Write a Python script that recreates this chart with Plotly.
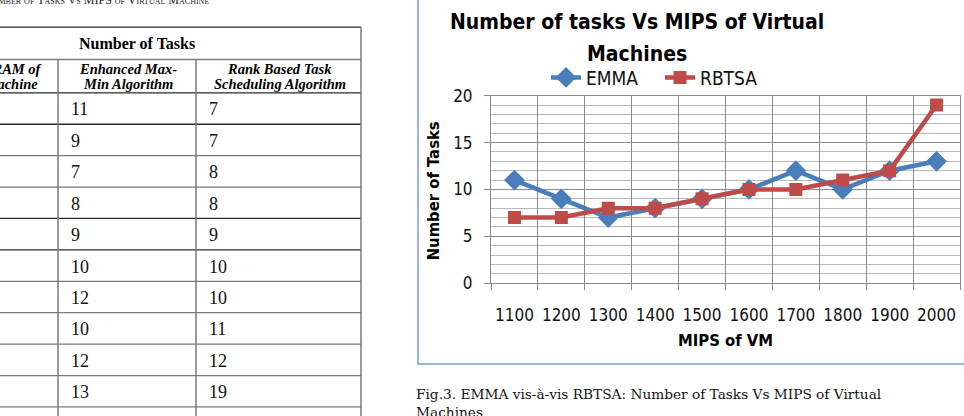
import plotly.graph_objects as go

# ---------------- data ----------------
mips = ["1100", "1200", "1300", "1400", "1500", "1600", "1700", "1800", "1900", "2000"]
emma = [11, 9, 7, 8, 9, 10, 12, 10, 12, 13]
rbtsa = [7, 7, 8, 8, 9, 10, 10, 11, 12, 19]
series_names = ["EMMA", "RBTSA"]
y_ticks = [0, 5, 10, 15, 20]

table_group_header = "Number of Tasks"
table_col_headers = [["Size of RAM of", "Virtual Machine"],
                     ["Enhanced Max-", "Min Algorithm"],
                     ["Rank Based Task", "Scheduling Algorithm"]]

chart_title_lines = ["Number of tasks Vs MIPS of Virtual", "Machines"]
x_title = "MIPS of VM"
y_title = "Number of Tasks"
caption = "Fig.3. EMMA vis-à-vis RBTSA: Number of Tasks Vs MIPS of Virtual<br>Machines"
table_caption = "Number of Tasks Vs MIPS of Virtual Machine"

# ---------------- layout helpers ----------------
W, H = 964, 416
def px(x):
    return x / W
def py(y):
    return 1 - y / H

SANS = "DejaVu Sans Condensed, DejaVu Sans, sans-serif"
SERIF = "Liberation Serif, serif"
BLUE = "#4a7ebb"
RED = "#be4b48"

fig = go.Figure()
fig.add_trace(go.Scatter(x=mips, y=emma, name=series_names[0], mode="lines+markers",
                         line=dict(color=BLUE, width=4.5),
                         marker=dict(symbol="diamond", size=16, color=BLUE)))
fig.add_trace(go.Scatter(x=mips, y=rbtsa, name=series_names[1], mode="lines+markers",
                         line=dict(color=RED, width=4.5),
                         marker=dict(symbol="square", size=13, color=RED)))

# plot area pixel bounds
PL, PR, PT, PB = 491, 960, 90, 287

fig.update_layout(
    width=W, height=H,
    margin=dict(l=0, r=0, t=0, b=0),
    paper_bgcolor="white", plot_bgcolor="white",
    showlegend=True,
    legend=dict(orientation="h", x=px(546), y=py(51), xanchor="left", yanchor="top",
                font=dict(family=SANS, size=19, color="#111"),
                bgcolor="rgba(0,0,0,0)", itemwidth=30, tracegroupgap=0,
                entrywidth=69, entrywidthmode="pixels"),
    xaxis=dict(domain=[px(PL), px(PR)], type="category", range=[-0.5, len(mips) - 0.5],
               tickson="boundaries", ticks="outside", ticklen=6, tickcolor="#888",
               tickangle=0,
               showgrid=True, gridcolor="#8a8a8a", gridwidth=1,
               showline=True, linecolor="#8a8a8a", linewidth=1, mirror=True,
               tickfont=dict(family=SANS, size=17, color="#111"),
               ticklabelstandoff=16, fixedrange=True),
    yaxis=dict(domain=[py(PB), py(PT)], range=[0, 20], tickvals=y_ticks,
               ticks="outside", ticklen=6, tickcolor="#888",
               showgrid=True, gridcolor="#8a8a8a", gridwidth=1, zeroline=False,
               minor=dict(dtick=1, showgrid=True, gridcolor="#b8b8b8", gridwidth=1, ticks=""),
               showline=True, linecolor="#8a8a8a", linewidth=1, mirror=True,
               tickfont=dict(family=SANS, size=17, color="#111"),
               ticklabelstandoff=8, fixedrange=True),
)

ann = []
shapes = []

# chart title (two lines)
for line, yc in zip(chart_title_lines, [13, 46]):
    ann.append(dict(text=line, x=px(637), y=py(yc), xref="paper", yref="paper",
                    xanchor="center", yanchor="middle", showarrow=False,
                    font=dict(family=SANS, size=21, color="#000", weight="bold")))
# axis titles
ann.append(dict(text=x_title, x=px((PL + PR) / 2), y=py(347), xref="paper", yref="paper",
                xanchor="center", yanchor="middle", showarrow=False,
                font=dict(family=SANS, size=16.5, color="#000", weight="bold")))
ann.append(dict(text=y_title, x=px(433), y=py((PT + PB) / 2 + 2), xref="paper", yref="paper",
                xanchor="center", yanchor="middle", showarrow=False, textangle=-90,
                font=dict(family=SANS, size=16.5, color="#000", weight="bold")))
# figure caption (second line cut at the bottom)
ann.append(dict(text=caption, x=px(414), y=py(393), xref="paper", yref="paper",
                xanchor="left", yanchor="top", align="left", showarrow=False,
                font=dict(family="DejaVu Serif, serif", size=13.7, color="#111")))

# chart frame (blue border, extends past the right/top edges)
shapes.append(dict(type="rect", xref="paper", yref="paper",
                   x0=px(418), x1=px(1010), y0=py(372), y1=py(-20),
                   line=dict(color="#7a9fd0", width=1.5), fillcolor="rgba(0,0,0,0)", layer="below"))

# ---------------- table (left side, partly cut off) ----------------
T_LEFT, T_RIGHT = -80, 361
col_edges = [T_LEFT, 58, 196, T_RIGHT]
T_TOP, R1, R2 = 18, 52, 87
ROW_H = 33
n_rows = len(emma)
GRAY = "#7a7a7a"
DARK = "#2a2a2a"

def hline(y, color, w=1.3):
    shapes.append(dict(type="line", xref="paper", yref="paper",
                       x0=px(T_LEFT), x1=px(T_RIGHT), y0=py(y), y1=py(y),
                       line=dict(color=color, width=w)))

def vline(x, y0, y1, color=GRAY, w=1.5):
    shapes.append(dict(type="line", xref="paper", yref="paper",
                       x0=px(x), x1=px(x), y0=py(y0), y1=py(y1),
                       line=dict(color=color, width=w)))

hline(T_TOP, DARK, 1.3)
hline(R1, GRAY, 1.5)
hline(R2, DARK, 1.3)
for i in range(1, n_rows + 1):
    hline(R2 + i * ROW_H, DARK if i in (1, 4, 5) else GRAY, 1.3)
vline(T_RIGHT, T_TOP, R2 + (n_rows + 1) * ROW_H)
for x in col_edges[1:3]:
    vline(x, R1, R2 + (n_rows + 1) * ROW_H)

# table caption (mostly cut off at top)
ann.append(dict(text=table_caption, x=px(211), y=py(-10), xref="paper", yref="paper",
                xanchor="right", yanchor="middle", showarrow=False,
                font=dict(family=SERIF, size=12, color="#222", variant="small-caps")))
# group header
ann.append(dict(text=table_group_header, x=px(137), y=py((T_TOP + R1) / 2),
                xref="paper", yref="paper", xanchor="center", yanchor="middle", showarrow=False,
                font=dict(family=SERIF, size=16, color="#000", weight="bold")))
HDR_FONT = dict(family=SERIF, size=14.5, color="#000", weight="bold", style="italic")
# first (cut) column header: right edges as seen
for line, yc, xr in zip(table_col_headers[0], [62, 78], [45, 40]):
    ann.append(dict(text=line, x=px(xr), y=py(yc), xref="paper", yref="paper",
                    xanchor="right", yanchor="middle", showarrow=False, font=HDR_FONT))
# other column headers (two lines each)
for j in (1, 2):
    cx = (col_edges[j] + col_edges[j + 1]) / 2 + 1
    for line, yc in zip(table_col_headers[j], [62, 78]):
        ann.append(dict(text=line, x=px(cx), y=py(yc), xref="paper", yref="paper",
                        xanchor="center", yanchor="middle", showarrow=False, font=HDR_FONT))
# data cells
for i in range(n_rows):
    yc = R2 + i * ROW_H + ROW_H / 2 + 1
    for j, vals in enumerate([emma, rbtsa]):
        ann.append(dict(text=str(vals[i]), x=px(col_edges[j + 1] + 11), y=py(yc),
                        xref="paper", yref="paper", xanchor="left", yanchor="middle",
                        showarrow=False, font=dict(family=SERIF, size=18, color="#111")))

fig.update_layout(annotations=ann, shapes=shapes)
fig.write_html("out.html")
